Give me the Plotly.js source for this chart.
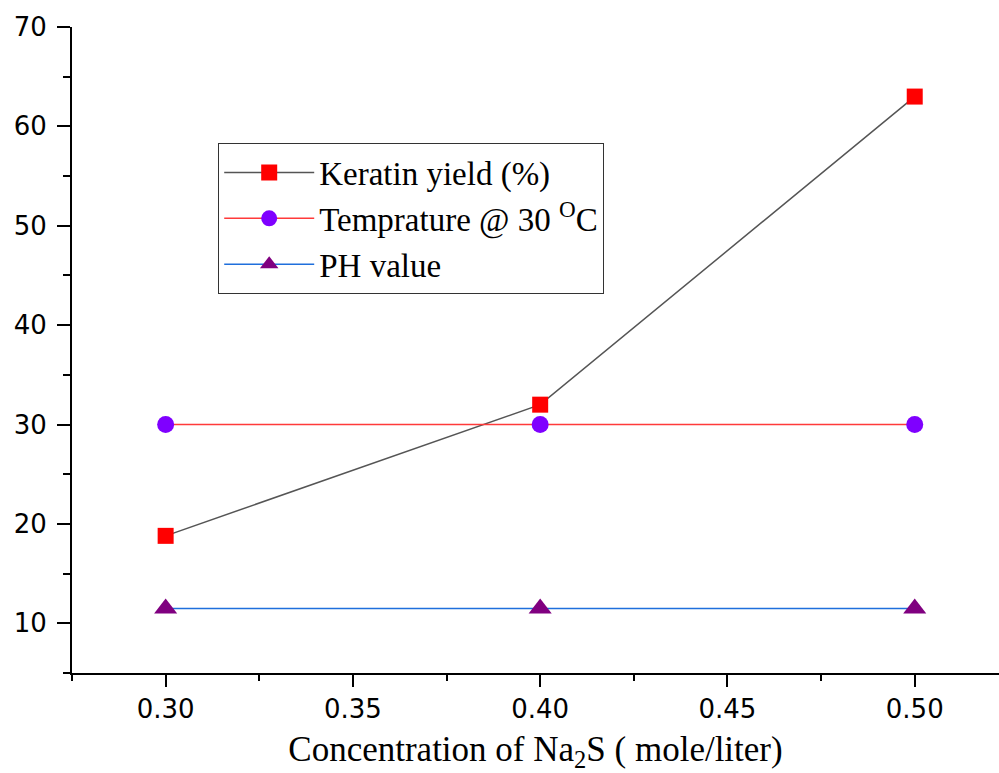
<!DOCTYPE html>
<html>
<head>
<meta charset="utf-8">
<script src="https://cdn.plot.ly/plotly-3.0.1.min.js"></script>
<style>html,body{margin:0;padding:0;background:#fff;}#chart{width:999px;height:773px;}</style>
</head>
<body>
<div id="chart"></div>
<script>
// Data
const concentration = [0.30, 0.40, 0.50];
const keratinYield = [18.8, 32.0, 63.0];
const temperature = [30, 30, 30];
const phValue = [11.5, 11.5, 11.5];
const seriesNames = ["Keratin yield (%)", "Temprature @ 30 <sup>O</sup>C", "PH value"];
const xTickVals = [0.30, 0.35, 0.40, 0.45, 0.50];
const xTickText = ["0.30", "0.35", "0.40", "0.45", "0.50"];
const yTickVals = [10, 20, 30, 40, 50, 60, 70];

const traces = [
  {
    x: concentration, y: keratinYield, name: seriesNames[0], type: 'scatter', mode: 'lines+markers',
    line: {color: '#555555', width: 1.5},
    marker: {symbol: 'square', size: 16, color: '#ff0000'}
  },
  {
    x: concentration, y: temperature, name: seriesNames[1], type: 'scatter', mode: 'lines+markers',
    line: {color: '#ff3a3a', width: 1.5},
    marker: {symbol: 'circle', size: 17, color: '#7f00ff'}
  },
  {
    x: concentration, y: phValue, name: seriesNames[2], type: 'scatter', mode: 'lines+markers',
    line: {color: '#1f6fdc', width: 1.5},
    marker: {symbol: 'triangle-up', size: 20, color: '#800080'}
  }
];

const axisFont = {family: 'DejaVu Sans, Arial, sans-serif', size: 26, color: '#000'};
const serif = 'Liberation Serif, Times New Roman, serif';

const layout = {
  width: 999, height: 773,
  margin: {l: 72, r: 0, t: 27, b: 100},
  paper_bgcolor: '#fff', plot_bgcolor: '#fff',
  showlegend: true,
  legend: {
    x: 0.1575, y: 0.82, xanchor: 'left', yanchor: 'top',
    bordercolor: '#333', borderwidth: 1.2, bgcolor: '#fff',
    font: {family: serif, size: 33, color: '#000'},
    itemwidth: 90, tracegroupgap: 0
  },
  xaxis: {
    range: [0.275, 0.5225],
    tickmode: 'array', tickvals: xTickVals, ticktext: xTickText,
    ticks: 'outside', ticklen: 12, tickwidth: 2, tickcolor: '#000',
    minor: {dtick: 0.025, tick0: 0.275, ticks: 'outside', ticklen: 6, tickwidth: 2, tickcolor: '#000', showgrid: false},
    showline: true, linecolor: '#000', linewidth: 2,
    showgrid: false, zeroline: false,
    tickfont: axisFont,
    title: {text: 'Concentration of Na<sub>2</sub>S ( mole/liter)', font: {family: serif, size: 35, color: '#000'}, standoff: 24}
  },
  yaxis: {
    range: [5, 70],
    tickmode: 'array', tickvals: yTickVals,
    ticks: 'outside', ticklen: 13, tickwidth: 2, tickcolor: '#000',
    ticklabelstandoff: 5,
    minor: {dtick: 5, tick0: 5, ticks: 'outside', ticklen: 7, tickwidth: 2, tickcolor: '#000', showgrid: false},
    showline: true, linecolor: '#000', linewidth: 2,
    showgrid: false, zeroline: false,
    tickfont: axisFont
  }
};

Plotly.newPlot('chart', traces, layout, {displayModeBar: false, staticPlot: true});
</script>
</body>
</html>
